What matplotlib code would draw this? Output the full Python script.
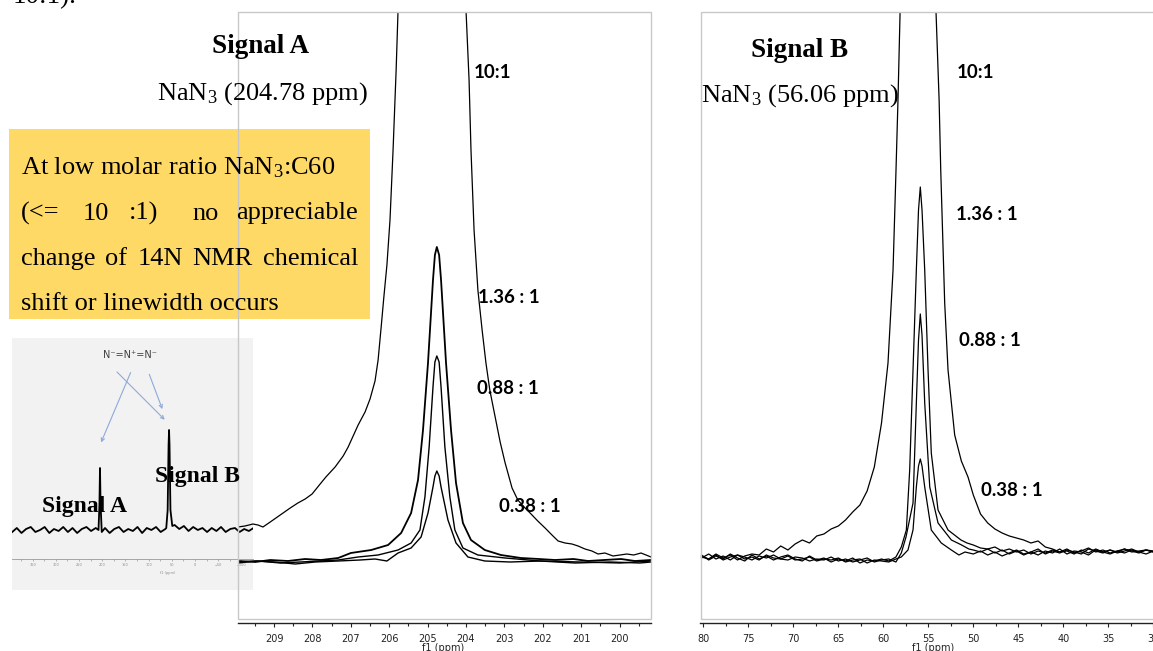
import matplotlib
matplotlib.use("Agg")
import matplotlib.pyplot as plt
from matplotlib.patches import Rectangle, FancyArrowPatch
from matplotlib.ticker import MultipleLocator

plt.rcParams["mathtext.fontset"] = "custom"
plt.rcParams["mathtext.rm"] = "Liberation Serif"
plt.rcParams["mathtext.it"] = "Liberation Serif:italic"
plt.rcParams["mathtext.bf"] = "Liberation Serif:bold"

SERIF = "Liberation Serif"
SANS = "Lato"
AXFONT = "DejaVu Sans"

# ---- Signal A (14N, ~204.78 ppm), intensity in a.u. above baseline ----
a_ppm_10 = [209.94, 209.76, 209.55, 209.42, 209.29, 209.10, 208.84, 208.58, 208.38, 208.19,
            208.01, 207.80, 207.65, 207.41, 207.20, 207.07, 206.94, 206.81, 206.63, 206.50,
            206.37, 206.29, 206.21, 206.14, 206.06, 205.98, 205.90, 205.82, 205.77, 204.89,
            204.00, 203.92, 203.87, 203.79, 203.69, 203.58, 203.48, 203.38, 203.24, 203.11,
            202.98, 202.80, 202.65, 202.46, 202.33, 202.13, 201.94, 201.76, 201.60, 201.42,
            201.24, 201.08, 200.90, 200.72, 200.56, 200.38, 200.17, 199.99, 199.81, 199.63,
            199.44, 199.31, 199.18]
a_int_10 = [34, 35, 37, 36, 34, 39, 46, 53, 58, 62, 67, 77, 84, 94, 105, 114, 125, 136, 149, 162,
            180, 201, 234, 264, 296, 341, 411, 491, 551, 1000, 551, 481, 411, 331, 271, 231, 198,
            171, 144, 119, 98, 73, 61, 53, 48, 40, 33, 26, 20, 18, 17, 15, 12, 10, 7, 8, 5, 6, 7,
            6, 8, 6, 4]

a_ppm_136 = [209.94, 209.49, 209.10, 208.64, 208.19, 207.78, 207.33, 207.00, 206.47, 206.03,
             205.69, 205.43, 205.25, 205.12, 204.99, 204.86, 204.81, 204.76, 204.70, 204.65,
             204.52, 204.39, 204.26, 204.08, 203.87, 203.51, 203.09, 202.57, 202.10, 201.68,
             201.20, 200.82, 200.40, 199.96, 199.60, 199.18]
a_int_136 = [0, -1, 1, 0, 2, 1, 3, 8, 11, 16, 28, 48, 81, 131, 198, 281, 306, 314, 306, 281,
             198, 131, 78, 38, 21, 11, 6, 3, 2, 1, 2, 0, 1, 2, 0, 1]

a_ppm_088 = [209.94, 209.42, 208.84, 208.32, 207.80, 207.33, 206.81, 206.29, 205.77, 205.43,
             205.20, 205.07, 204.96, 204.86, 204.81, 204.76, 204.70, 204.65, 204.55, 204.42,
             204.29, 204.08, 203.69, 202.98, 202.07, 201.03, 199.99, 199.18]
a_int_088 = [-1, 0, -2, -1, 0, 1, 4, 6, 11, 18, 31, 64, 114, 174, 199, 205, 199, 174, 114, 64,
             31, 13, 6, 3, 0, -1, -2, 0]

a_ppm_038 = [209.94, 209.49, 208.97, 208.45, 207.93, 207.33, 206.76, 206.37, 206.06, 205.77,
             205.43, 205.17, 204.99, 204.86, 204.81, 204.76, 204.70, 204.65, 204.47, 204.26,
             203.95, 203.51, 202.85, 202.07, 201.16, 200.25, 199.47, 199.18]
a_int_038 = [-2, 0, -1, -3, -1, 0, 1, 2, 0, 8, 13, 24, 48, 74, 85, 90, 85, 74, 41, 18, 4, 0,
             -1, 0, -2, -1, -2, -1]

# ---- Signal B (~56.06 ppm): noisy baseline on both sides + peak region ----
b_ppm_left = [80.2, 79.4, 78.6, 77.8, 77.0, 76.2, 75.4, 74.6, 73.8, 73.0, 72.2, 71.4, 70.6,
              69.8, 69.0, 68.2, 67.4, 66.6, 65.8, 65.0, 64.2, 63.4, 62.6, 61.8, 61.0, 60.2]
b_ppm_right = [50.0, 49.2, 48.4, 47.6, 46.8, 46.0, 45.2, 44.4, 43.6, 42.8, 42.0, 41.2, 40.4,
               39.6, 38.8, 38.0, 37.2, 36.4, 35.6, 34.8, 34.0, 33.2, 32.4, 31.6, 30.8, 30.0]

b10_left = [1, -2, 3, -1, 2, -3, 1, 3, 2, 8, 5, 11, 7, 13, 17, 14, 21, 23, 28, 31, 37, 45, 52,
            66, 90, 134]
b10_peak_ppm = [59.48, 58.92, 58.59, 58.37, 58.14, 56.20, 54.14, 53.80, 53.62, 53.18, 52.81,
                52.07, 51.33, 50.59]
b10_peak = [194, 287, 387, 457, 544, 1000, 544, 457, 387, 254, 187, 122, 96, 80]
b10_right = [62, 43, 34, 28, 24, 21, 19, 17, 14, 16, 10, 8, 5, 6, 3, 7, 4, 8, 5, 7, 4, 6, 8, 5,
             7, 5]

b136_left = [2, -3, 1, -2, 3, -1, -4, 2, -2, 1, -3, 0, 2, -2, -4, 1, -3, -1, -5, -2, -4, -1,
             -6, -3, -4, -2]
b136_peak_ppm = [59.4, 58.6, 58.0, 57.44, 57.07, 56.70, 56.33, 56.09, 55.89, 55.70, 55.40,
                 55.03, 54.67, 53.92, 52.81, 51.37, 50.70]
b136_peak = [-4, 0, 10, 27, 87, 187, 287, 347, 370, 347, 287, 187, 104, 47, 27, 17, 14]
b136_right = [12, 9, 8, 10, 6, 8, 5, 7, 3, 6, 4, 7, 5, 8, 4, 6, 9, 5, 7, 4, 6, 8, 5, 6, 7, 5]

b088_left = [-1, 3, -2, 1, -3, 2, 0, -3, 1, -1, 2, -2, -3, 0, -1, -4, -2, -3, 0, -4, -2, -5,
             -3, -1, -5, -3]
b088_peak_ppm = [59.4, 58.6, 58.0, 57.48, 56.70, 56.33, 56.09, 55.89, 55.70, 55.40, 54.84,
                 53.92, 52.44, 51.30, 50.50]
b088_peak = [-2, -5, 4, 20, 54, 154, 217, 243, 222, 154, 70, 34, 17, 12, 8]
b088_right = [7, 5, 8, 4, 7, 3, 6, 2, 5, 8, 3, 6, 4, 7, 5, 3, 8, 6, 4, 7, 5, 8, 6, 4, 7, 6]

b038_left = [0, -2, 2, -3, 0, 2, -2, 0, -3, 2, -1, -2, 1, -3, -2, 0, -4, -2, -3, -1, -5, -3,
             -2, -6, -3, -4]
b038_peak_ppm = [59.4, 58.6, 58.0, 57.26, 56.70, 56.33, 56.09, 55.89, 55.70, 55.40, 54.67,
                 53.56, 52.44, 51.60, 50.92]
b038_peak = [-5, -2, 0, 7, 27, 70, 91, 98, 91, 70, 27, 14, 7, 2, 5]
b038_right = [3, 6, 2, 5, 1, 4, 7, 3, 5, 2, 6, 4, 8, 3, 6, 5, 2, 7, 5, 3, 6, 4, 7, 5, 3, 6]

# ---- full-range inset spectrum ----
ins_ppm = [394, 384, 374, 364, 354, 344, 334, 324, 314, 304, 294, 284, 274, 264, 254, 244, 234,
           224, 214, 208, 206, 204.8, 203.5, 201, 194, 184, 174, 164, 154, 144, 134, 124, 114,
           104, 94, 84, 74, 64, 62, 59, 57, 56, 55, 53, 49, 44, 34, 24, 14, 4, -6, -16, -26,
           -36, -46, -56, -66, -76, -86, -96, -106, -116, -126]
ins_int = [-2, 2, -3, 1, 3, -2, 0, 3, -3, 1, -1, 3, -2, 2, -3, 1, 3, -1, 2, 0, 25, 62, 25, -2,
           2, -3, 1, 3, -2, 1, -1, 3, -3, 2, 0, 3, -2, 1, 2, 20, 85, 100, 85, 20, 4, 5, 1, 4,
           -1, 3, 0, 2, -2, 2, -1, 3, -2, 1, 2, -2, 1, -1, 2]

ratio_labels = ["10:1", "1.36 : 1", "0.88 : 1", "0.38 : 1"]

W, H = 1153, 651


def fx(px):
    return px / W


def fy(py):
    return 1 - py / H


def axes_px(fig, x0, y0, x1, y1):
    return fig.add_axes([fx(x0), fy(y1), (x1 - x0) / W, (y1 - y0) / H])


def put(fig, px, py, s, **kw):
    return fig.text(fx(px), fy(py), s, **kw)


def frame(fig, x0, y0, x1, y1, **kw):
    r = Rectangle((fx(x0), fy(y1)), (x1 - x0) / W, (y1 - y0) / H,
                  transform=fig.transFigure, **kw)
    fig.add_artist(r)
    return r


def justify(fig, words, x0, x1, base, weights, **kw):
    """Spread words between x0 and x1 (pixels), gaps split by weights."""
    texts = [put(fig, x0, base, w, ha="left", **kw) for w in words]
    renderer = fig.canvas.get_renderer()
    widths = [t.get_window_extent(renderer).width for t in texts]
    unit = ((x1 - x0) - sum(widths)) / sum(weights)
    x = x0
    for t, w, g in zip(texts, widths, list(weights) + [0]):
        t.set_x(fx(x))
        x += w + g * unit


fig = plt.figure(figsize=(W / 100, H / 100), dpi=100)

# inset image (background)
frame(fig, 12, 338, 253, 590, facecolor="#F2F2F2", edgecolor="none", zorder=-1)
axI = axes_px(fig, 12, 338, 253, 559)
axI.set_facecolor("none")
axI.plot(ins_ppm, ins_int, color="black", lw=1.3)
axI.set_xlim(394.4, -124.9)
axI.set_ylim(-29, 192)
for s in ("top", "left", "right"):
    axI.spines[s].set_visible(False)
axI.spines["bottom"].set_color("#9a9a9a")
axI.spines["bottom"].set_linewidth(0.6)
axI.xaxis.set_major_locator(MultipleLocator(50))
axI.xaxis.set_minor_locator(MultipleLocator(25))
axI.tick_params(axis="x", which="both", length=1.2, width=0.5, color="#9a9a9a",
                labelsize=2.5, labelcolor="#8a8a8a", pad=1.5)
axI.tick_params(axis="y", left=False, labelleft=False)
put(fig, 168, 573, "f1 (ppm)", fontsize=2.5, color="#8a8a8a", ha="center", va="center")
put(fig, 130, 355, "N\u207b=N\u207a=N\u207b", fontsize=7, color="#404040", family=AXFONT,
    ha="center", va="center")
for (xa, ya), (xb, yb) in [((131.7, 370), (100, 445)), ((115, 370), (166.7, 421.7)),
                           ((148.3, 371.7), (163.3, 411.7))]:
    fig.add_artist(FancyArrowPatch((fx(xa), fy(ya)), (fx(xb), fy(yb)), transform=fig.transFigure,
                                   arrowstyle="->", mutation_scale=6, color="#8EA9DB", lw=0.8,
                                   zorder=1))
put(fig, 41.7, 511.7, "Signal A", fontsize=17, fontweight="bold", family=SERIF, va="baseline")
put(fig, 155, 481.7, "Signal B", fontsize=17, fontweight="bold", family=SERIF, va="baseline")

# yellow note box
frame(fig, 9, 129, 370, 319, facecolor="#FFD966", edgecolor="none", zorder=1)

# main spectra
axA = axes_px(fig, 238, 12, 651, 623)
axA.plot(a_ppm_10, a_int_10, color="black", lw=0.9)
axA.plot(a_ppm_136, a_int_136, color="black", lw=1.3)
axA.plot(a_ppm_088, a_int_088, color="black", lw=1.0)
axA.plot(a_ppm_038, a_int_038, color="black", lw=1.0)
axA.set_xlim(209.94, 199.18)
axA.set_ylim(-62, 549)
axA.xaxis.set_major_locator(MultipleLocator(1))
axA.xaxis.set_minor_locator(MultipleLocator(0.5))

axB = axes_px(fig, 700, 12, 1165, 623)
curves_b = [(b10_left, b10_peak_ppm, b10_peak, b10_right),
            (b136_left, b136_peak_ppm, b136_peak, b136_right),
            (b088_left, b088_peak_ppm, b088_peak, b088_right),
            (b038_left, b038_peak_ppm, b038_peak, b038_right)]
for left, pk_ppm, pk, right in curves_b:
    axB.plot(b_ppm_left + pk_ppm + b_ppm_right, left + pk + right, color="black", lw=0.9)
axB.set_xlim(80.37, 28.70)
axB.set_ylim(-66, 545)
axB.xaxis.set_major_locator(MultipleLocator(5))
axB.xaxis.set_minor_locator(MultipleLocator(2.5))

for ax in (axA, axB):
    ax.set_zorder(1.5)
    ax.set_facecolor("none")
    for s in ("top", "left", "right"):
        ax.spines[s].set_visible(False)
    ax.spines["bottom"].set_color("#222222")
    ax.spines["bottom"].set_linewidth(1.0)
    ax.tick_params(axis="x", which="major", direction="out", length=3, width=0.8,
                   color="#222222", labelsize=7, pad=5, labelcolor="#222222")
    ax.tick_params(axis="x", which="minor", direction="out", length=2, width=0.8,
                   color="#222222")
    ax.tick_params(axis="y", left=False, labelleft=False)
    for lbl in ax.get_xticklabels():
        lbl.set_fontfamily(AXFONT)

put(fig, 443, 643, "f1 (ppm)", fontsize=7, family=AXFONT, color="#222222", ha="center", va="top")
put(fig, 933, 643, "f1 (ppm)", fontsize=7, family=AXFONT, color="#222222", ha="center", va="top")

# gray panel frames
frame(fig, 238, 12, 651, 619, fill=False, edgecolor="#C8C8C8", lw=1.0, zorder=2)
frame(fig, 700.7, 12, 1170, 619, fill=False, edgecolor="#C8C8C8", lw=1.0, zorder=2)

# ratio labels
lab_kw = dict(fontsize=13.5, fontweight="bold", family=SANS, va="center", ha="left", zorder=4)
for txt, (px, py) in zip(ratio_labels, [(474, 73), (478, 298), (477, 389), (499, 506)]):
    put(fig, px, py, txt, **lab_kw)
for txt, (px, py) in zip(ratio_labels, [(957, 72), (955.7, 215), (959, 341), (981, 491)]):
    put(fig, px, py, txt, **lab_kw)

# titles
put(fig, 13, 3, "10:1).", fontsize=19.5, family=SERIF, va="baseline")
put(fig, 260.5, 53.3, "Signal A", fontsize=19.5, fontweight="bold", family=SERIF,
    ha="center", va="baseline")
put(fig, 157, 100, "NaN$_\\mathrm{3}$ (204.78 ppm)", fontsize=19, family=SERIF, va="baseline")
put(fig, 799.5, 57, "Signal B", fontsize=19.5, fontweight="bold", family=SERIF,
    ha="center", va="baseline")
put(fig, 701, 102, "NaN$_\\mathrm{3}$ (56.06 ppm)", fontsize=19, family=SERIF, va="baseline")

# note text, lines 2-3 justified like the slide
note_kw = dict(fontsize=19, family=SERIF, va="baseline", zorder=3)
put(fig, 20.7, 174, "At low molar ratio NaN$_\\mathrm{3}$:C60", **note_kw)
justify(fig, ["(<=", "10", ":1)", "no", "appreciable"], 20.7, 358.3, 219.5,
        [1.2, 1.0, 1.7, 0.9], **note_kw)
justify(fig, ["change", "of", "14N", "NMR", "chemical"], 20.7, 358.3, 265,
        [1, 1, 1, 1], **note_kw)
put(fig, 20.7, 310, "shift or linewidth occurs", **note_kw)

fig.savefig("out.png", dpi=100)
